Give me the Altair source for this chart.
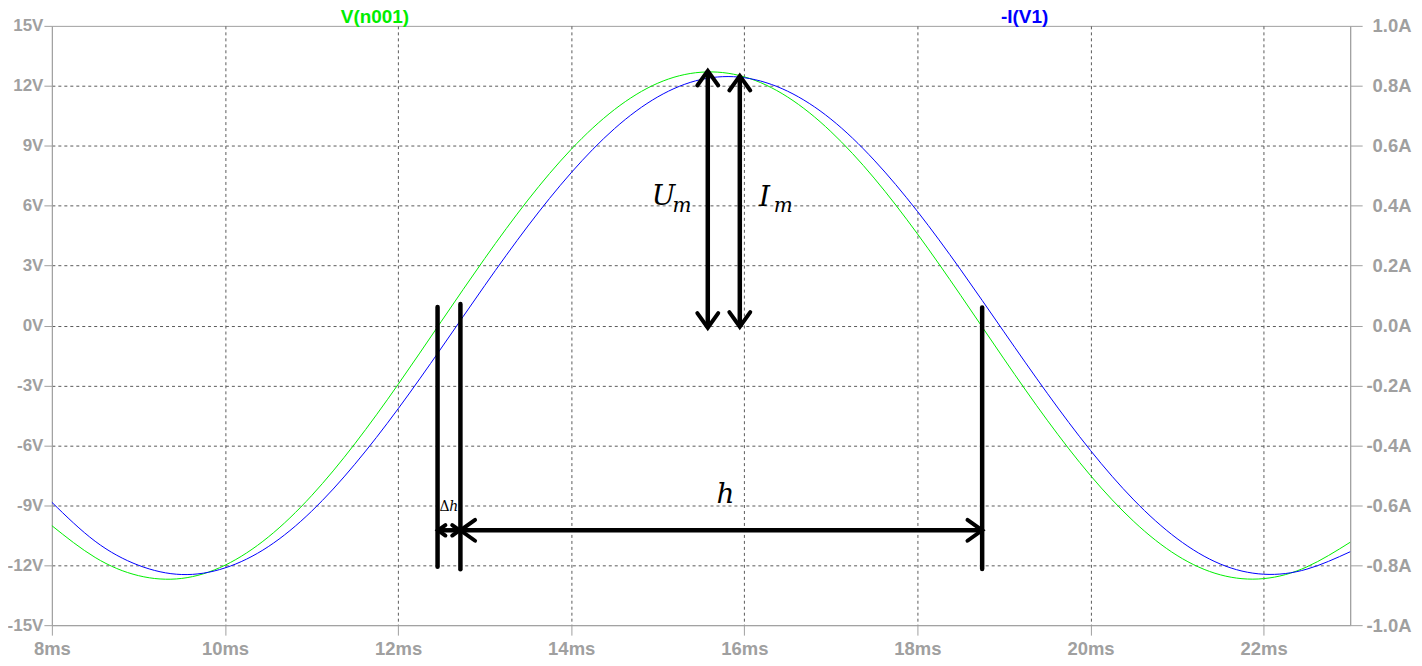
import altair as alt
import pandas as pd

# ---- traces ----
time_ms = [8.0, 8.5, 9.0, 9.5, 10.0, 10.5, 11.0, 11.5, 12.0, 12.5, 13.0, 13.5, 14.0, 14.5, 15.0,
           15.5, 16.0, 16.5, 17.0, 17.5, 18.0, 18.5, 19.0, 19.5, 20.0, 20.5, 21.0, 21.5, 22.0, 22.5, 23.0]
v_n001 = [-10.02, -11.61, -12.52, -12.66, -12.00, -10.59, -8.52, -5.92, -2.95, 0.21, 3.35, 6.28, 8.82,
          10.81, 12.13, 12.68, 12.45, 11.44, 9.71, 7.38, 4.59, 1.51, -1.67, -4.74, -7.51, -9.81,
          -11.51, -12.48, -12.67, -12.08, -10.85]
i_v1 = [-0.590, -0.720, -0.800, -0.831, -0.809, -0.738, -0.620, -0.463, -0.278, -0.075, 0.133, 0.332,
        0.510, 0.657, 0.763, 0.821, 0.827, 0.782, 0.689, 0.552, 0.381, 0.186, -0.021, -0.226, -0.417,
        -0.582, -0.711, -0.796, -0.830, -0.813, -0.755]

# ---- axis ticks ----
x_ticks = [8, 10, 12, 14, 16, 18, 20, 22]
v_ticks = [-15, -12, -9, -6, -3, 0, 3, 6, 9, 12, 15]
a_ticks = [-1.0, -0.8, -0.6, -0.4, -0.2, 0.0, 0.2, 0.4, 0.6, 0.8, 1.0]

# ---- annotations (in ms / V) ----
bar_t = [12.456, 12.72, 18.748]
bar_top = [0.93, 1.08, 0.90]
bar_bot = [-12.07, -12.20, -12.19]

arrow_t = [12.456, 12.72, 15.578, 15.948]
arrow_t2 = [12.72, 18.748, 15.578, 15.948]
arrow_v = [-10.25, -10.25, -0.11, -0.06]
arrow_v2 = [-10.25, -10.25, 12.75, 12.50]

head_t = [15.578, 15.578, 15.948, 15.948, 12.72, 18.748, 12.462, 12.71]
head_v = [12.75, -0.11, 12.50, -0.06, -10.25, -10.25, -10.25, -10.25]
head_angle = [270, 90, 270, 90, 180, 0, 180, 0]
head_size = [441, 441, 441, 441, 441, 441, 110, 110]

big_text = ["U", "I", "h"]
big_t = [14.93, 16.17, 15.68]
big_v = [6.03, 5.98, -8.87]
sub_text = ["m", "m"]
sub_t = [15.17, 16.34]
sub_v = [5.70, 5.66]

green = "#00ee00"
blue = "#0000ff"
gray = "#a0a0a0"
grid_gray = "#5a5a5a"
LBL = dict(labelFont="Liberation Sans", labelFontWeight="bold",
           labelColor=gray, tickColor=gray, domainColor=gray, title=None,
           labelFlush=False, labelOverlap=False)

x_axis = alt.Axis(orient="bottom", values=x_ticks, labelExpr="datum.value + 'ms'", labelFontSize=18.5,
                  tickSize=10, labelPadding=4, grid=True, gridColor=grid_gray, gridDash=[3, 3],
                  gridOpacity={"condition": {"test": "datum.value == 8", "value": 0}, "value": 1},
                  **LBL)
x_scale = alt.Scale(domain=[8, 23], nice=False, zero=False)
v_scale = alt.Scale(domain=[-15, 15], nice=False, zero=False)
a_scale = alt.Scale(domain=[-1, 1], nice=False, zero=False)


def X(field):
    return alt.X(field, type="quantitative", scale=x_scale, axis=x_axis, title=None)


def Yv(field):
    return alt.Y(field, type="quantitative", scale=v_scale, axis=None, title=None)


traces = pd.DataFrame({"t": time_ms, "v": v_n001, "i": i_v1})

left_axis = alt.Axis(orient="left", values=v_ticks, labelExpr="datum.value + 'V'", labelFontSize=17,
                     tickSize=8, labelPadding=1, grid=True, gridColor=grid_gray, gridDash=[3, 3],
                     gridOpacity={"condition": {"test": "abs(datum.value) == 15", "value": 0}, "value": 1},
                     **LBL)
right_axis = alt.Axis(orient="right", values=a_ticks, labelFontSize=18.5, labelAlign="right",
                      labelExpr="(datum.value < 0 ? '-' : '') + format(abs(datum.value), '.1f') + 'A'",
                      tickSize=12, labelPadding=49, grid=False, **LBL)

green_line = alt.Chart(traces).mark_line(color=green, strokeWidth=1, interpolate="natural").encode(
    x=X("t"), y=alt.Y("v:Q", scale=v_scale, axis=left_axis, title=None))

blue_line = alt.Chart(traces).mark_line(color=blue, strokeWidth=1, interpolate="natural").encode(
    x=X("t"), y=alt.Y("i:Q", scale=a_scale, axis=right_axis, title=None))

# white patch behind the small label
patch = alt.Chart(pd.DataFrame({"t": [12.487], "t2": [12.694], "v": [-8.6], "v2": [-9.6]})).mark_rect(
    color="white").encode(x=X("t"), x2="t2:Q", y=Yv("v"), y2="v2:Q")

bars = alt.Chart(pd.DataFrame({"t": bar_t, "v": bar_top, "v2": bar_bot})).mark_rule(
    color="black", strokeWidth=4.5, strokeCap="round").encode(x=X("t"), y=Yv("v"), y2="v2:Q")

shafts = alt.Chart(pd.DataFrame({"t": arrow_t, "t2": arrow_t2, "v": arrow_v, "v2": arrow_v2})).mark_rule(
    color="black", strokeWidth=4.5, strokeCap="butt").encode(x=X("t"), x2="t2:Q", y=Yv("v"), y2="v2:Q")

heads = alt.Chart(pd.DataFrame({"t": head_t, "v": head_v, "a": head_angle, "s": head_size})).mark_point(
    shape="M-1.4,-1L0,0L-1.4,1", filled=False, color="black", opacity=1, strokeWidth=4,
    strokeCap="round", strokeJoin="miter").encode(
    x=X("t"), y=Yv("v"), angle=alt.Angle("a:Q", scale=None), size=alt.Size("s:Q", scale=None))

big = alt.Chart(pd.DataFrame({"t": big_t, "v": big_v, "txt": big_text})).mark_text(
    font="DejaVu Serif", fontStyle="italic", fontSize=28, align="left", baseline="alphabetic",
    color="black").encode(x=X("t"), y=Yv("v"), text="txt:N")

sub = alt.Chart(pd.DataFrame({"t": sub_t, "v": sub_v, "txt": sub_text})).mark_text(
    font="DejaVu Serif", fontStyle="italic", fontSize=20, align="left", baseline="alphabetic",
    color="black").encode(x=X("t"), y=Yv("v"), text="txt:N")

delta = alt.Chart(pd.DataFrame({"t": [12.478], "v": [-9.3], "txt": ["\u0394"]})).mark_text(
    font="DejaVu Serif", fontSize=14, align="left", baseline="alphabetic", color="black").encode(
    x=X("t"), y=Yv("v"), text="txt:N")
delta_h = alt.Chart(pd.DataFrame({"t": [12.59], "v": [-9.3], "txt": ["h"]})).mark_text(
    font="DejaVu Serif", fontStyle="italic", fontSize=14, align="left", baseline="alphabetic",
    color="black").encode(x=X("t"), y=Yv("v"), text="txt:N")

name_v = alt.Chart(pd.DataFrame({"name": ["V(n001)"]})).mark_text(
    font="Liberation Sans", fontWeight="bold", fontSize=19, align="center", baseline="alphabetic",
    color=green).encode(x=alt.value(324), y=alt.value(-3), text="name:N")
name_i = alt.Chart(pd.DataFrame({"name": ["-I(V1)"]})).mark_text(
    font="Liberation Sans", fontWeight="bold", fontSize=19, align="center", baseline="alphabetic",
    color=blue).encode(x=alt.value(975.5), y=alt.value(-3), text="name:N")

annot = alt.layer(patch, bars, shafts, heads, big, sub, delta, delta_h, name_v, name_i)

chart = alt.layer(green_line, blue_line, annot).resolve_scale(y="independent").properties(
    width=1302, height=601, autosize="none",
    padding={"left": 44, "top": 17, "right": 64, "bottom": 32},
    background="white",
).configure_view(stroke=gray, strokeWidth=1)

chart.save("out.html", embed_options={"renderer": "svg", "actions": False})
